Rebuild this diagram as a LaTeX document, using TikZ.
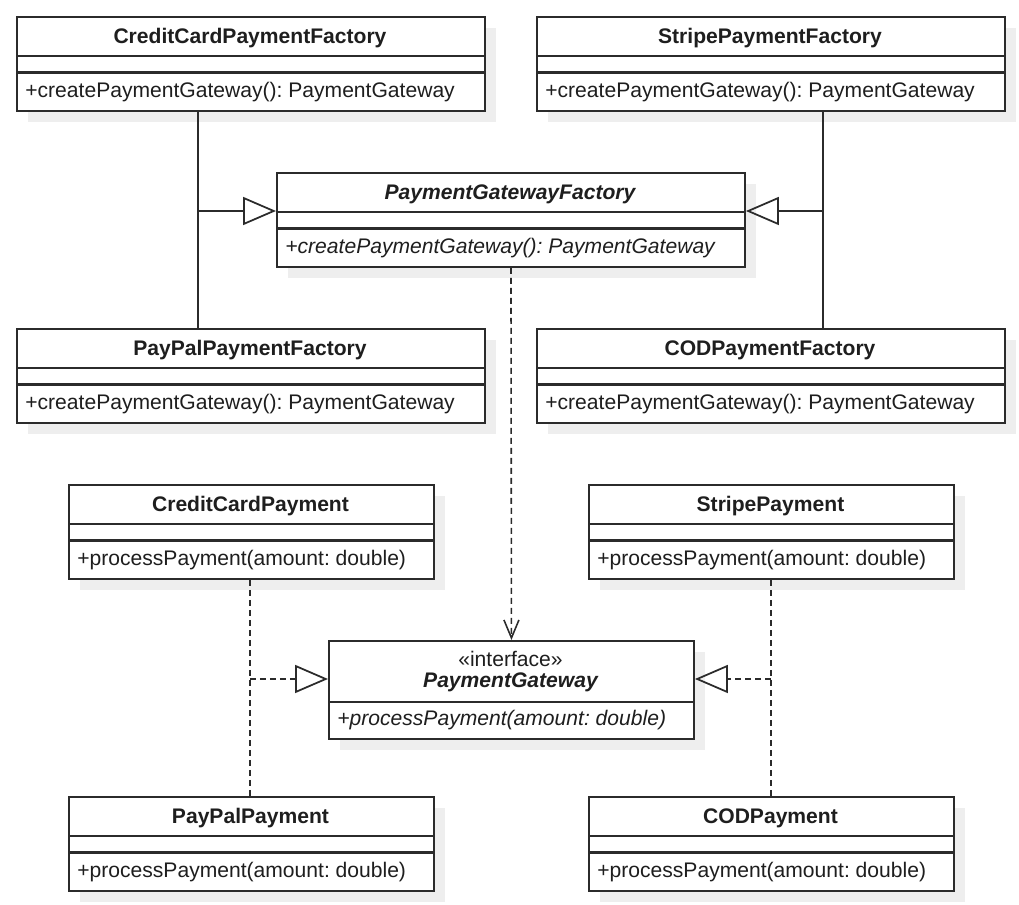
\documentclass[tikz,border=0pt]{standalone}
\usepackage{fontspec}
\setmainfont{Liberation Sans}
\usepackage{xcolor}
\usetikzlibrary{arrows.meta,shadows}
\frenchspacing

\definecolor{linec}{HTML}{2B2B2B}
\definecolor{textc}{HTML}{1E1E1E}
\definecolor{shadowc}{HTML}{EEEEEE}

\tikzset{
    clsbox/.style={draw=linec, fill=white, line width=1.1pt, anchor=north west, inner sep=0pt,
        minimum height=94*0.02cm,
        drop shadow={shadow xshift=0.22cm, shadow yshift=-0.22cm, fill=shadowc, opacity=1}},
    sepline/.style={draw=linec, line width=1.2pt},
    clstitle/.style={font=\fontsize{12}{14.4}\selectfont\bfseries, text=textc, inner sep=0pt},
    clsmeth/.style={font=\fontsize{12}{14.4}\selectfont, text=textc, anchor=west, inner sep=0pt},
    gen/.style={draw=linec, line width=1pt, -{Triangle[open, length=0.66cm, width=0.56cm]}},
    real/.style={gen, dash pattern=on 0.12cm off 0.08cm},
    dep/.style={draw=linec, line width=0.9pt, dash pattern=on 0.12cm off 0.08cm,
        -{Straight Barb[length=0.36cm, width=0.3cm]}}
}

% class box: name, x, y, width, title, method
\newcommand{\umlclass}[6]{%
    \node[clsbox, minimum width=#4*0.02cm] (#1) at (#2,#3) {};
    \draw[sepline] (#2,#3+40) -- ++(#4,0);
    \draw[sepline] (#2,#3+56.5) -- ++(#4,0);
    \node[clstitle] (#1-title) at (#2+#4/2,#3+22.5) {#5};
    \node[clsmeth] (#1-meth) at (#2+9,#3+76.5) {#6};
}

\begin{document}
\begin{tikzpicture}[x=0.02cm, y=-0.02cm]
    \useasboundingbox (0,0) rectangle (1019,905);

    % factories
    \umlclass{ccf}{16}{16}{468}{CreditCardPaymentFactory}{+createPaymentGateway(): PaymentGateway}
    \umlclass{spf}{536}{16}{468}{StripePaymentFactory}{+createPaymentGateway(): PaymentGateway}
    \umlclass{pgf}{276}{172}{468}{\itshape PaymentGatewayFactory}{\itshape +createPaymentGateway(): PaymentGateway}
    \umlclass{ppf}{16}{328}{468}{PayPalPaymentFactory}{+createPaymentGateway(): PaymentGateway}
    \umlclass{codf}{536}{328}{468}{CODPaymentFactory}{+createPaymentGateway(): PaymentGateway}

    % payments
    \umlclass{ccp}{68}{484}{365}{CreditCardPayment}{+processPayment(amount: double)}
    \umlclass{spp}{588}{484}{365}{StripePayment}{+processPayment(amount: double)}
    \umlclass{ppp}{68}{796}{365}{PayPalPayment}{+processPayment(amount: double)}
    \umlclass{codp}{588}{796}{365}{CODPayment}{+processPayment(amount: double)}

    % interface
    \node[clsbox, minimum width=365*0.02cm, minimum height=98*0.02cm] (pg) at (328,640) {};
    \draw[sepline] (328,702) -- ++(365,0);
    \node[clsmeth, anchor=center] (pg-stereo) at (510.5,659) {«interface»};
    \node[clstitle] (pg-title) at (510.5,682) {\itshape PaymentGateway};
    \node[clsmeth] (pg-meth) at (337,720) {\itshape +processPayment(amount: double)};

    % connectors
    \coordinate (lbus) at (198,211);
    \coordinate (rbus) at (823,211);
    \coordinate (lreal) at (250,679);
    \coordinate (rreal) at (771,679);

    \draw[draw=linec, line width=1pt] (ccf.south -| lbus) -- (ppf.north -| lbus);
    \draw[gen] (lbus) -- (lbus -| pgf.west);
    \draw[draw=linec, line width=1pt] (spf.south -| rbus) -- (codf.north -| rbus);
    \draw[gen] (rbus) -- (rbus -| pgf.east);

    \draw[real, -] (ccp.south -| lreal) -- (ppp.north -| lreal);
    \draw[real] (lreal) -- (lreal -| pg.west);
    \draw[real, -] (spp.south -| rreal) -- (codp.north -| rreal);
    \draw[real] (rreal) -- (rreal -| pg.east);

    \draw[dep] (pgf.south) -- (pg.north);
\end{tikzpicture}
\end{document}
